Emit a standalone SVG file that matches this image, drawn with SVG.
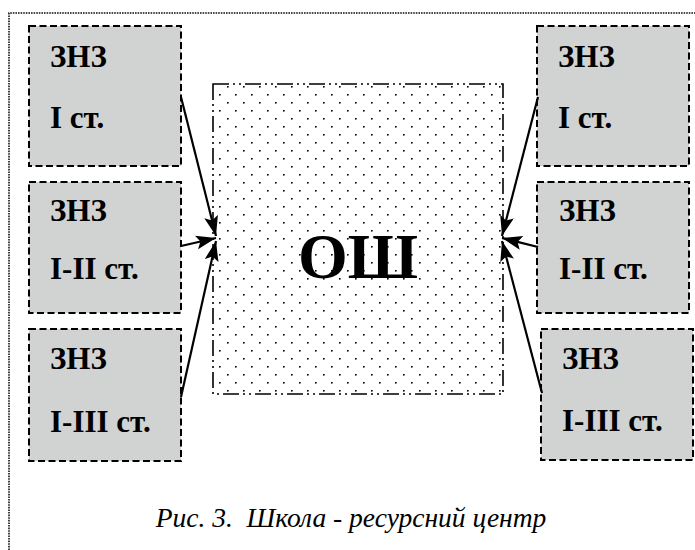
<svg xmlns="http://www.w3.org/2000/svg" width="695" height="550" viewBox="0 0 695 550">
<defs>
<style>
.box{fill:#d1d3d3;stroke:#000;stroke-width:2;stroke-dasharray:7 3.5}
.lbl{font-family:"Liberation Serif",serif;font-weight:bold;font-size:31px;fill:#000}
.conn{stroke:#000;stroke-width:2.2;fill:none;marker-end:url(#ah)}
</style>
<pattern id="dots" x="0" y="0" width="16" height="16" patternUnits="userSpaceOnUse">
<rect x="3" y="6" width="1.6" height="1.6" fill="#000"/>
<rect x="11" y="14" width="1.6" height="1.6" fill="#000"/>
</pattern>
<marker id="ah" markerWidth="22" markerHeight="16" refX="20" refY="7" orient="auto" markerUnits="userSpaceOnUse">
<path d="M0,0 L20,7 L0,14 L4,7 z" fill="#000"/>
</marker>
</defs>
<rect width="695" height="550" fill="#fff"/>
<path d="M9,550 L9,13 L695,13" fill="none" stroke="#111" stroke-width="1.6" stroke-dasharray="1.6 1"/>

<g id="center">
<rect x="213" y="84" width="290" height="310" fill="url(#dots)" stroke="#000" stroke-width="1.6" stroke-dasharray="16 4 2 4 2 4"/>
<text x="358" y="278" text-anchor="middle" font-family="Liberation Serif,serif" font-weight="bold" font-size="64">ОШ</text>
</g>

<g id="l1"><rect class="box" x="29" y="26" width="152" height="140"/><text class="lbl" x="50" y="67">ЗНЗ</text><text class="lbl" x="50" y="128">І ст.</text></g>
<g id="l2"><rect class="box" x="29" y="182" width="152" height="131"/><text class="lbl" x="50" y="221">ЗНЗ</text><text class="lbl" x="50" y="279">І-ІІ ст.</text></g>
<g id="l3"><rect class="box" x="29" y="329" width="152" height="132"/><text class="lbl" x="50" y="369">ЗНЗ</text><text class="lbl" x="50" y="432">І-ІІІ ст.</text></g>
<g id="r1"><rect class="box" x="537" y="26" width="152" height="140"/><text class="lbl" x="558" y="67">ЗНЗ</text><text class="lbl" x="558" y="128">І ст.</text></g>
<g id="r2"><rect class="box" x="537" y="182" width="152" height="131"/><text class="lbl" x="559" y="221">ЗНЗ</text><text class="lbl" x="559" y="279">І-ІІ ст.</text></g>
<g id="r3"><rect class="box" x="541" y="329" width="152" height="131"/><text class="lbl" x="562" y="369">ЗНЗ</text><text class="lbl" x="562" y="431">І-ІІІ ст.</text></g>

<g id="connectors">
<line class="conn" x1="181" y1="97" x2="216" y2="236"/>
<line class="conn" x1="181" y1="246" x2="216" y2="238"/>
<line class="conn" x1="181" y1="397" x2="216" y2="241"/>
<line class="conn" x1="538" y1="97" x2="502" y2="236"/>
<line class="conn" x1="538" y1="247" x2="502" y2="238"/>
<line class="conn" x1="542" y1="393" x2="502" y2="241"/>
</g>

<text x="351" y="527" text-anchor="middle" font-family="Liberation Serif,serif" font-style="italic" font-size="27.5" xml:space="preserve" style="white-space:pre">Рис. 3.  Школа - ресурсний центр</text>
</svg>
